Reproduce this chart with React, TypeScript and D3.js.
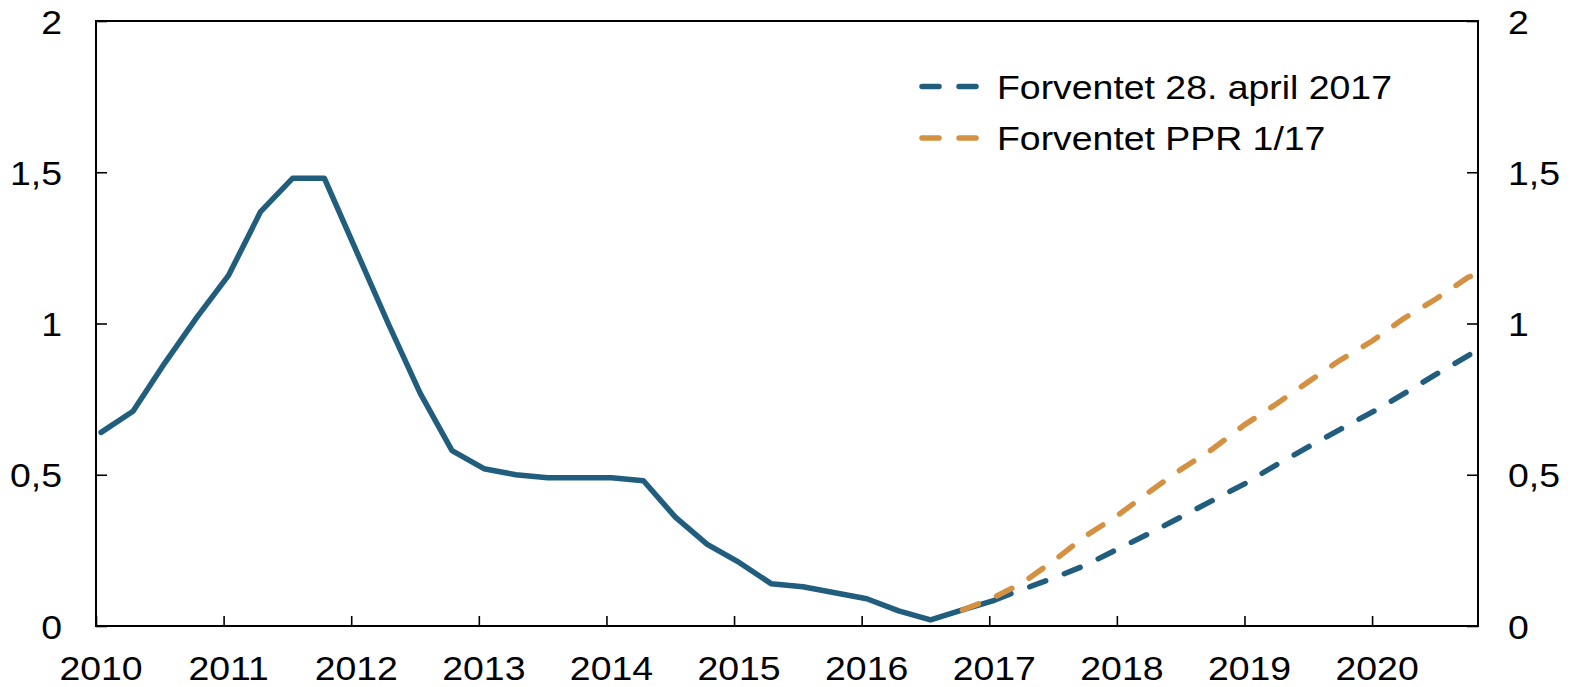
import * as React from "react"
import * as d3 from "d3"

// quarterly observations (decimal year)
const histDates = [
  2010.04, 2010.29, 2010.54, 2010.79, 2011.04, 2011.29, 2011.54, 2011.79,
  2012.04, 2012.29, 2012.54, 2012.79, 2013.04, 2013.29, 2013.54, 2013.79,
  2014.04, 2014.29, 2014.54, 2014.79, 2015.04, 2015.29, 2015.54, 2015.79,
  2016.04, 2016.29, 2016.54, 2016.79, 2017.04, 2017.17,
]
const histValues = [
  0.64, 0.71, 0.87, 1.02, 1.16, 1.37, 1.48, 1.48,
  1.24, 1.0, 0.77, 0.58, 0.52, 0.5, 0.49, 0.49,
  0.49, 0.48, 0.36, 0.27, 0.21, 0.14, 0.13, 0.11,
  0.09, 0.05, 0.02, 0.053, 0.085, 0.107,
]

// Forventet 28. april 2017
const aprDates = [
  2017.17, 2017.5, 2017.75, 2018.0, 2018.25, 2018.5, 2018.75, 2019.0,
  2019.25, 2019.5, 2019.75, 2020.0, 2020.25, 2020.5, 2020.75, 2020.83,
]
const aprValues = [
  0.107, 0.158, 0.2, 0.253, 0.305, 0.36, 0.415, 0.47,
  0.533, 0.592, 0.65, 0.707, 0.768, 0.832, 0.893, 0.913,
]

// Forventet PPR 1/17
const pprDates = [
  2016.79, 2017.0, 2017.25, 2017.5, 2017.75, 2018.0, 2018.25, 2018.5, 2018.75,
  2019.0, 2019.25, 2019.5, 2019.75, 2020.0, 2020.25, 2020.5, 2020.75, 2020.83,
]
const pprValues = [
  0.053, 0.087, 0.14, 0.214, 0.296, 0.364, 0.442, 0.517, 0.585,
  0.665, 0.734, 0.807, 0.879, 0.942, 1.017, 1.081, 1.152, 1.166,
]

const xTicks = [2010, 2011, 2012, 2013, 2014, 2015, 2016, 2017, 2018, 2019, 2020]
const yTicks = [0, 0.5, 1, 1.5, 2]
const legendLabels = ["Forventet 28. april 2017", "Forventet PPR 1/17"]

const BLUE = "#215D7D"
const ORANGE = "#D59142"
const FONT = "'Liberation Sans', Arial, sans-serif"
const SX = 1.1

function render(svgRef: React.RefObject<SVGSVGElement>) {
  const width = 1574
  const height = 687
  const left = 96
  const right = 1478
  const top = 21
  const bottom = 626

  const svg = d3.select(svgRef.current).attr("width", width).attr("height", height)
  svg.selectAll("*").remove()

  const x = d3.scaleLinear().domain([2010, 2020.83]).range([left, right])
  const y = d3.scaleLinear().domain([0, 2]).range([bottom, top])

  const line = d3
    .line<[number, number]>()
    .x((d) => x(d[0]))
    .y((d) => y(d[1]))

  const fmt = (v: number) => String(v).replace(".", ",")

  // x axis (ticks pointing up)
  const gx = svg
    .append("g")
    .attr("transform", `translate(0,${bottom})`)
    .call(d3.axisBottom(x).tickValues(xTicks).tickSizeInner(-10).tickSizeOuter(0).tickFormat(d3.format("d")))
  gx.select(".domain").remove()
  gx.selectAll(".tick line").attr("stroke", "#000").attr("stroke-width", 1.6)
  gx.selectAll(".tick text")
    .attr("x", 4.5 / SX)
    .attr("y", 54)
    .attr("dy", null)
    .attr("transform", `scale(${SX},1)`)
    .attr("fill", "#000")
    .style("font", `34px ${FONT}`)

  // left y axis
  const gl = svg
    .append("g")
    .attr("transform", `translate(${left},0)`)
    .call(d3.axisLeft(y).tickValues(yTicks).tickSizeInner(-11).tickSizeOuter(0).tickFormat((d) => fmt(+d)))
  gl.select(".domain").remove()
  gl.selectAll(".tick line").attr("stroke", "#000").attr("stroke-width", 1.6)
  gl.selectAll(".tick text")
    .attr("x", -34 / SX)
    .attr("dy", null)
    .attr("y", 12)
    .attr("transform", `scale(${SX},1)`)
    .attr("text-anchor", "end")
    .attr("fill", "#000")
    .style("font", `34px ${FONT}`)

  // right y axis
  const gr = svg
    .append("g")
    .attr("transform", `translate(${right},0)`)
    .call(d3.axisRight(y).tickValues(yTicks).tickSizeInner(-11).tickSizeOuter(0).tickFormat((d) => fmt(+d)))
  gr.select(".domain").remove()
  gr.selectAll(".tick line").attr("stroke", "#000").attr("stroke-width", 1.6)
  gr.selectAll(".tick text")
    .attr("x", 30 / SX)
    .attr("dy", null)
    .attr("y", 12)
    .attr("transform", `scale(${SX},1)`)
    .attr("text-anchor", "start")
    .attr("fill", "#000")
    .style("font", `34px ${FONT}`)

  // frame
  svg
    .append("rect")
    .attr("x", left)
    .attr("y", top)
    .attr("width", right - left)
    .attr("height", bottom - top)
    .attr("fill", "none")
    .attr("stroke", "#000")
    .attr("stroke-width", 2)

  const hist = histDates.map((d, i) => [d, histValues[i]] as [number, number])
  const apr = aprDates.map((d, i) => [d, aprValues[i]] as [number, number])
  const ppr = pprDates.map((d, i) => [d, pprValues[i]] as [number, number])

  svg
    .append("path")
    .attr("d", line(hist))
    .attr("fill", "none")
    .attr("stroke", BLUE)
    .attr("stroke-width", 5.5)
    .attr("stroke-linejoin", "round")
    .attr("stroke-linecap", "round")

  svg
    .append("path")
    .attr("d", line(apr))
    .attr("fill", "none")
    .attr("stroke", BLUE)
    .attr("stroke-width", 5.5)
    .attr("stroke-linecap", "round")
    .attr("stroke-dasharray", "17 20")
    .attr("stroke-dashoffset", 17)

  svg
    .append("path")
    .attr("d", line(ppr))
    .attr("fill", "none")
    .attr("stroke", ORANGE)
    .attr("stroke-width", 5.5)
    .attr("stroke-linecap", "round")
    .attr("stroke-dasharray", "17 20")

  // legend
  const legendColors = [BLUE, ORANGE]
  const lg = svg
    .selectAll(".legend")
    .data(legendLabels)
    .join("g")
    .attr("class", "legend")
    .attr("transform", (_, i) => `translate(0,${86.5 + i * 51.5})`)

  lg.append("line")
    .attr("x1", 922)
    .attr("x2", 978)
    .attr("y1", 0)
    .attr("y2", 0)
    .attr("stroke", (_, i) => legendColors[i])
    .attr("stroke-width", 5.5)
    .attr("stroke-linecap", "round")
    .attr("stroke-dasharray", "17 20")

  lg.append("text")
    .attr("transform", `translate(997,12) scale(${SX},1)`)
    .attr("fill", "#000")
    .style("font", `34px ${FONT}`)
    .text((d) => d)
}

export default function App(): React.JSX.Element {
  const svg = React.useRef<SVGSVGElement>(null)

  React.useEffect(() => {
    render(svg)
  }, [])

  return (
    <div style={{ position: "absolute", left: 0, top: 0, width: 1574, height: 687, background: "#fff" }}>
      <svg ref={svg} style={{ display: "block" }} />
    </div>
  )
}
